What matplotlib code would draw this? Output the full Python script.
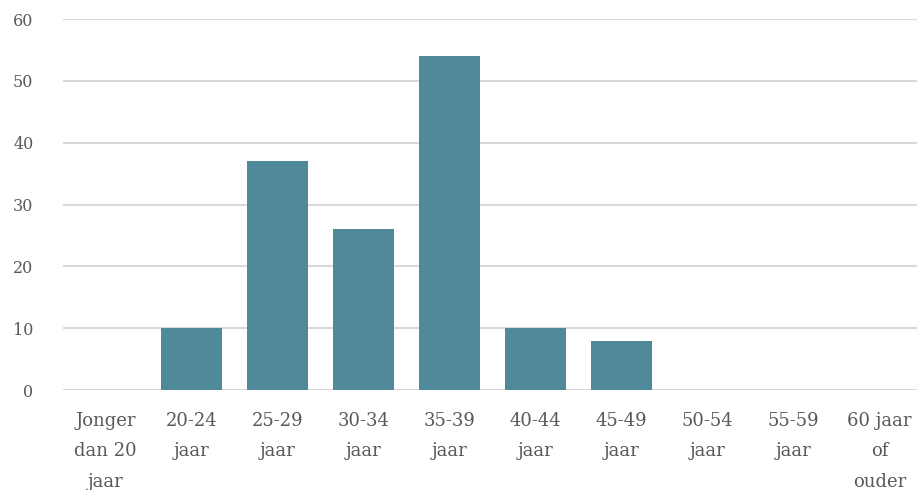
import matplotlib
matplotlib.use("Agg")
import matplotlib.pyplot as plt

categories = ["Jonger\ndan 20\njaar", "20-24\njaar", "25-29\njaar", "30-34\njaar", "35-39\njaar",
              "40-44\njaar", "45-49\njaar", "50-54\njaar", "55-59\njaar", "60 jaar\nof\nouder"]
values = [0, 10, 37, 26, 54, 10, 8, 0, 0, 0]
yticks = [0, 10, 20, 30, 40, 50, 60]

plt.rcParams['font.family'] = ['DejaVu Serif']
fig = plt.figure(figsize=(9.17, 4.9), dpi=100)
ax = fig.add_axes([0.0682, 0.204, 0.938, 0.757])
x = list(range(len(categories)))
ax.bar(x, values, width=0.71, color="#508A9A", zorder=3)
ax.set_xlim(-0.5, len(categories) - 0.5)
ax.set_ylim(0, 60)
ax.set_yticks(yticks)
ax.set_yticklabels([str(t) for t in yticks], color="#595959", fontsize=11.5)
ax.set_xticks(x)
ax.set_xticklabels(categories, color="#595959", fontsize=13, linespacing=1.87, va="top")
ax.grid(axis="y", color="#d9d9d9", linewidth=1.5, zorder=0)
for s in ax.spines.values():
    s.set_visible(False)
ax.tick_params(axis="both", length=0)
ax.tick_params(axis="y", pad=21)
ax.tick_params(axis="x", pad=16)
fig.savefig("out.png", dpi=100)
